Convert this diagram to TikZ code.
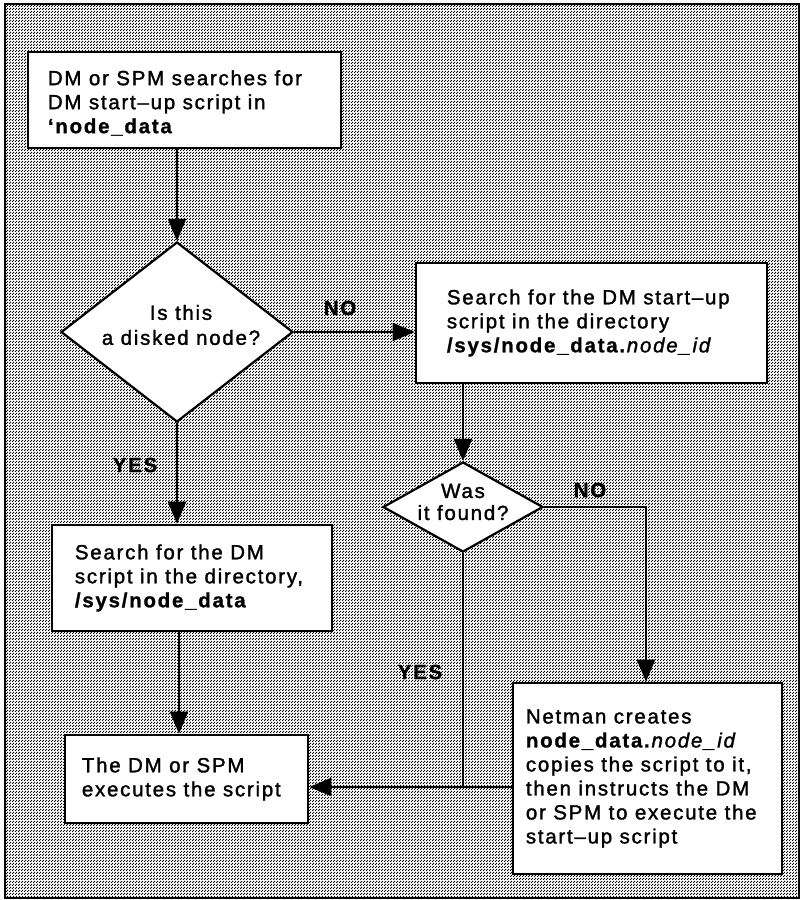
\documentclass[tikz,border=0pt]{standalone}
\usepackage{fontspec}
\setmainfont[LetterSpace=8.5,
  UprightFeatures={FakeBold=1.5},
  ItalicFeatures={FakeBold=1.5},
  BoldFeatures={FakeBold=1}]{Liberation Sans}
\usetikzlibrary{shapes.geometric,arrows.meta,patterns.meta}

% fine halftone screen for the page background
\tikzdeclarepattern{
  name=halftone,
  type=uncolored,
  bottom left={(0bp,0bp)},
  top right={(3bp,3bp)},
  tile size={(3bp,3bp)},
  code={
    \fill (0bp,0bp) rectangle (1.4bp,1.4bp);
    \fill (1.5bp,1.5bp) rectangle (2.9bp,2.9bp);
  }
}

\tikzset{
  frame/.style={draw, line width=2.5bp, pattern=halftone, pattern color=black},
  box/.style={draw, line width=2.6bp, fill=white, inner sep=0pt, rectangle},
  decision/.style={draw, diamond, line width=2.2bp, fill=white, inner sep=0pt},
  txt/.style={anchor=west, align=left, inner sep=0pt,
    font=\fontsize{20.5bp}{24bp}\selectfont},
  dtxt/.style={align=center, inner sep=0pt,
    font=\fontsize{20.5bp}{25bp}\selectfont},
  lbl/.style={inner sep=0pt, font=\fontsize{20.5bp}{24bp}\selectfont\bfseries},
  conn/.style={line width=2bp, -{Triangle[length=22bp,width=18bp]}},
  plain/.style={line width=2bp}
}

\begin{document}
\begin{tikzpicture}[x=1bp, y=-1bp]
  \useasboundingbox (0,0) rectangle (802,900);
  \fill[white] (0,0) rectangle (802,900);
  \path[frame] (5,4) rectangle (799,898);

  % process boxes
  \node[box, minimum width=313bp, minimum height=96bp]  (start)   at (184.5,100) {};
  \node[box, minimum width=351bp, minimum height=120bp] (srchid)  at (591.5,323) {};
  \node[box, minimum width=280bp, minimum height=106bp] (srchdir) at (192,578)   {};
  \node[box, minimum width=243bp, minimum height=88bp]  (exec)    at (186.5,779) {};
  \node[box, minimum width=269bp, minimum height=191bp] (netman)  at (647.5,778.5) {};

  % decisions
  \node[decision, minimum width=232bp, minimum height=180bp] (disked) at (177,332) {};
  \node[decision, minimum width=160bp, minimum height=90bp]  (found)  at (463,507) {};

  % box texts
  \node[txt] (startt) at ([xshift=21bp, yshift=-3bp]start.west)
    {DM or SPM searches for\\DM start–up script in\\\textbf{‘node\_data}};
  \node[txt] (srchidt) at ([xshift=32bp]srchid.west)
    {Search for the DM start–up\\script in the directory\\\textbf{/sys/node\_data.}\textit{node\_id}};
  \node[txt] (srchdirt) at ([xshift=24bp]srchdir.west)
    {Search for the DM\\script in the directory,\\\textbf{/sys/node\_data}};
  \node[txt] (exect) at ([xshift=18bp]exec.west)
    {The DM or SPM\\executes the script};
  \node[txt] (netmant) at ([xshift=14bp]netman.west)
    {Netman creates\\\textbf{node\_data.}\textit{node\_id}\\copies the script to it,\\then instructs the DM\\or SPM to execute the\\start–up script};

  % decision texts
  \node[dtxt] (diskedt) at (181,325) {Is this\\a disked node?};
  \node[dtxt, font=\fontsize{20.5bp}{22bp}\selectfont] (foundt) at (463,502) {Was\\it found?};

  % branch labels
  \node[lbl] (no1)  at (340,308) {NO};
  \node[lbl] (yes1) at (135,465) {YES};
  \node[lbl] (no2)  at (590,490) {NO};
  \node[lbl] (yes2) at (420,672) {YES};

  % connectors
  \coordinate (join) at (463,787);
  \draw[conn] (start.south -| disked.north) -- (disked.north);
  \draw[conn] (disked.east) -- (disked.east -| srchid.west);
  \draw[conn] (disked.south) -- (disked.south |- srchdir.north);
  \draw[conn] ([xshift=2bp]srchdir.south -| disked.south) -- ([xshift=2bp]exec.north -| disked.south);
  \draw[conn] (srchid.south -| found.north) -- (found.north);
  \draw[conn] (found.east) -| (netman.north -| 646,0);
  \draw[plain] (found.south) -- (join);
  \draw[conn] (join -| netman.west) -- (join -| exec.east);
\end{tikzpicture}
\end{document}
